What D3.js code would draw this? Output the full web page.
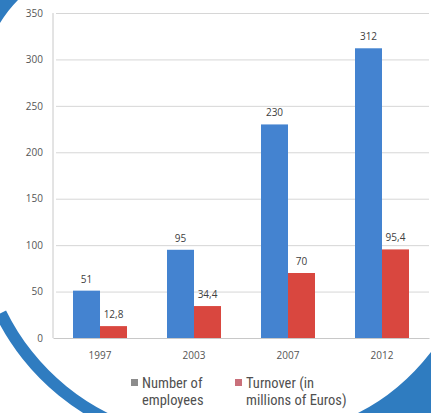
<!DOCTYPE html>
<html>
<head>
<meta charset="utf-8">
<script src="https://cdn.jsdelivr.net/npm/d3@7/dist/d3.min.js"></script>
<style>
  html, body { margin: 0; padding: 0; background: #ffffff; }
  svg { display: block; }
</style>
</head>
<body>
<svg id="chart" width="431" height="413"></svg>
<script>
// Company figures by year
const years = ["1997", "2003", "2007", "2012"];
const employees = [51, 95, 230, 312];
const turnover = [12.8, 34.4, 70, 95.4];
const seriesNames = ["Number of employees", "Turnover (in millions of Euros)"];
const yTicks = [0, 50, 100, 150, 200, 250, 300, 350];

const W = 431, H = 413;
const plot = { left: 53, right: 429, top: 13, bottom: 338 };
const colors = ["#4483d0", "#d9473f"];
const fmt = v => String(v).replace(".", ",");

const svg = d3.select("#chart");

// decorative blue brochure shapes behind the chart
const deco = svg.append("g");
deco.append("path")
  .attr("d", "M0,0 L18,0 Q8,10 0,23 Z")
  .attr("fill", "#2f7cc0");
const arc = d3.arc()
  .innerRadius(226).outerRadius(238)
  .startAngle(-Math.PI * 0.645).endAngle(-Math.PI * 0.92);
deco.append("path")
  .attr("transform", "translate(209,211)")
  .attr("d", arc())
  .attr("fill", "#2f7cc0");
deco.append("path")
  .attr("d", "M431,352 Q400,392 358,413 L431,413 Z")
  .attr("fill", "#2f7cc0");

const y = d3.scaleLinear().domain([0, 350]).range([plot.bottom, plot.top]);
const x0 = d3.scaleBand().domain(years).range([plot.left, plot.right])
  .paddingInner(0.4255).paddingOuter(0.2128);
const x1 = d3.scaleBand().domain([0, 1]).range([0, x0.bandwidth()]);

// gridlines and value axis
const yAxis = d3.axisLeft(y).tickValues(yTicks)
  .tickSize(-(plot.right - plot.left) - 3).tickPadding(10).tickFormat(d3.format("d"));
const gy = svg.append("g").attr("transform", `translate(${plot.left},0)`).call(yAxis);
gy.select(".domain").remove();
gy.selectAll(".tick line").attr("stroke", "#d6d6d6").attr("x1", 3).attr("x2", plot.right - plot.left);
gy.selectAll(".tick text")
  .attr("fill", "#555555")
  .style("font-family", "'Open Sans', 'DejaVu Sans', sans-serif")
  .style("font-size", "10px");
svg.append("line")
  .attr("x1", plot.left).attr("x2", plot.left)
  .attr("y1", plot.top).attr("y2", plot.bottom)
  .attr("stroke", "#c8c8c8");

// category axis
const xAxis = d3.axisBottom(x0).tickSize(0).tickPadding(14);
const gx = svg.append("g").attr("transform", `translate(0,${plot.bottom})`).call(xAxis);
gx.select(".domain").attr("stroke", "#c8c8c8");
gx.selectAll(".tick text")
  .attr("fill", "#555555")
  .style("font-family", "'Open Sans', 'DejaVu Sans', sans-serif")
  .style("font-size", "10px");

// bars
const rows = years.map((yr, i) => ({ year: yr, values: [employees[i], turnover[i]] }));
const groups = svg.append("g").selectAll("g").data(rows).join("g")
  .attr("transform", d => `translate(${x0(d.year)},0)`);
groups.selectAll("rect").data(d => d.values.map((v, k) => ({ v, k }))).join("rect")
  .attr("x", d => x1(d.k))
  .attr("width", x1.bandwidth())
  .attr("y", d => y(d.v))
  .attr("height", d => y(0) - y(d.v))
  .attr("fill", d => colors[d.k]);
groups.selectAll("text").data(d => d.values.map((v, k) => ({ v, k }))).join("text")
  .attr("x", d => x1(d.k) + x1.bandwidth() / 2)
  .attr("y", d => y(d.v) - 8)
  .attr("text-anchor", "middle")
  .attr("fill", "#404040")
  .style("font-family", "'Open Sans', 'DejaVu Sans', sans-serif")
  .style("font-size", "10px")
  .text(d => fmt(d.v));

// legend
const legendFont = "'Liberation Sans Narrow', 'Arial Narrow', 'Roboto Condensed', sans-serif";
svg.append("rect").attr("x", 126).attr("y", 368).attr("width", 226).attr("height", 45).attr("fill", "#ffffff");
const legendItems = [
  { x: 131, color: "#8c8c8c", lines: ["Number of", "employees"] },
  { x: 235, color: "#c9707a", lines: ["Turnover (in", "millions of Euros)"] }
];
const lg = svg.append("g").selectAll("g").data(legendItems).join("g")
  .attr("transform", d => `translate(${d.x},0)`);
lg.append("rect").attr("x", 0).attr("y", 379).attr("width", 7).attr("height", 7)
  .attr("fill", d => d.color);
lg.append("g").selectAll("text").data(d => d.lines).join("text")
  .attr("x", 11).attr("y", (d, i) => 388 + i * 16.7)
  .attr("fill", "#505050")
  .style("font-family", legendFont)
  .style("font-size", "14.5px")
  .text(d => d);
</script>
</body>
</html>
